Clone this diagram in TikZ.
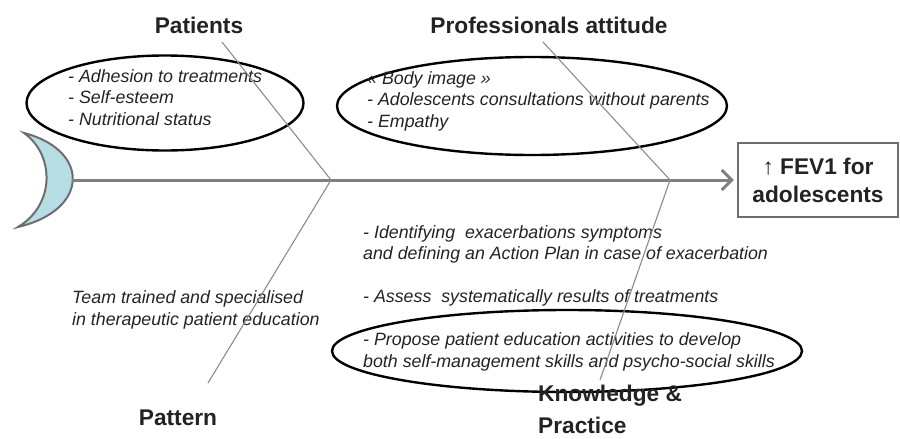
\documentclass[tikz,border=0pt]{standalone}
\usepackage{fontspec}
\setmainfont{Liberation Sans}
\usetikzlibrary{arrows.meta,shapes.geometric}
\definecolor{spinegray}{RGB}{128,128,128}
\definecolor{bonegray}{RGB}{140,140,140}
\definecolor{boxgray}{RGB}{110,110,110}
\definecolor{headblue}{RGB}{183,222,228}
\definecolor{inkgray}{RGB}{35,35,35}
\tikzset{
  oval/.style={ellipse, draw=black, line width=2.4pt, inner sep=0pt},
  note/.style={font=\fontsize{17.8}{21.5}\selectfont\itshape, align=left, anchor=west, inner sep=0pt, text=inkgray},
  title/.style={font=\fontsize{22.7}{32}\selectfont\bfseries, align=left, inner sep=0pt, text=inkgray},
  bone/.style={draw=bonegray, line width=1.1pt},
  spine/.style={draw=spinegray, line width=3pt, -{Straight Barb[length=10pt,width=20pt]}},
}

\begin{document}
\begin{tikzpicture}[x=1pt,y=-1pt]
\useasboundingbox (0,0) rectangle (900,439);

\node[oval, minimum width=277pt, minimum height=95pt] (ovpat) at (165,103) {};
\node[oval, minimum width=390pt, minimum height=98pt] (ovpro) at (532,106) {};
\node[oval, minimum width=470pt, minimum height=82pt] (ovkno) at (567,351) {};

\node[title] (pat) at (199,25) {Patients};
\node[title] (pro) at (549,25) {Professionals attitude};
\node[title] (ptn) at (178,418) {Pattern};
\node[title, anchor=west] (kno) at (538,409) {Knowledge \&\\Practice};

\node[note] (patnote) at (68,97.5) {- Adhesion to treatments\\- Self-esteem\\- Nutritional status};
\node[note] (pronote) at (367,101) {« Body image »\\- Adolescents consultations without parents\\- Empathy};
\node[note] (ptnnote) at (72,310) {Team trained and specialised\\in therapeutic patient education};
\node[note] (knonote) at (363,298) {- Identifying\ \ exacerbations symptoms\\and defining an Action Plan in case of exacerbation\\[21.5pt]- Assess\ \ systematically results of treatments\\[21.5pt]- Propose patient education activities to develop\\both self-management skills and psycho-social skills};

\node[draw=boxgray, line width=2.4pt, minimum width=160pt, minimum height=74pt, inner sep=0pt, align=center, font=\fontsize{22.7}{28}\selectfont\bfseries, text=inkgray] (fev) at (818,180) {↑ FEV1 for\\adolescents};

\draw[draw=boxgray, line width=2pt, fill=headblue] (24,133) .. controls (90,150) and (90,210) .. (18,227) .. controls (55,205) and (55,155) .. (24,133) -- cycle;

\coordinate (tail) at (72,180);
\coordinate (j1) at (331,180);
\coordinate (j2) at (670,180);
\coordinate (p1) at (222,42);
\coordinate (p2) at (208,383);
\coordinate (q1) at (543,42);
\coordinate (q2) at (600,380);

\draw[spine, shorten >=3pt] (tail) -- (fev.west);
\draw[bone] (p1) -- (j1) -- (p2);
\draw[bone] (q1) -- (j2) -- (q2);

\end{tikzpicture}
\end{document}
